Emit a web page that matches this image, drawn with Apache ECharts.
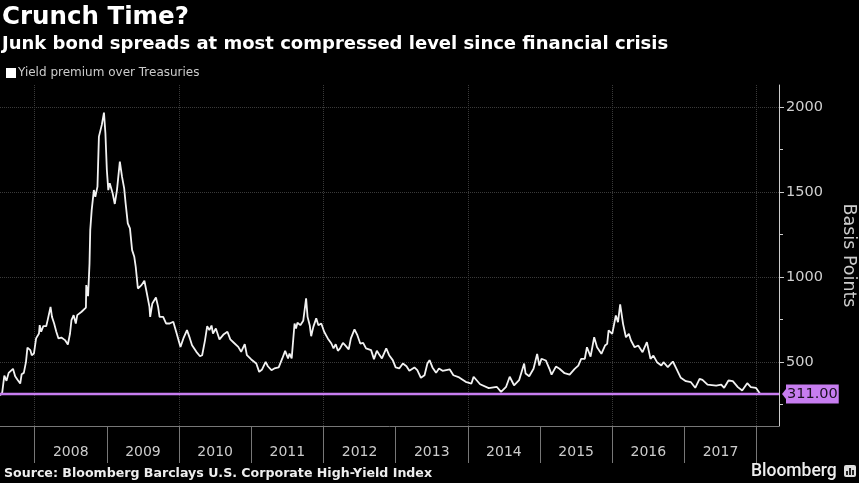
<!DOCTYPE html>
<html>
<head>
<meta charset="utf-8">
<style>
  html, body { margin: 0; padding: 0; background: #000; }
  #chart { width: 859px; height: 483px; }
</style>
<script src="https://cdn.jsdelivr.net/npm/echarts@6/dist/echarts.min.js"></script>
</head>
<body>
<div id="chart"></div>
<script>
// [decimal year, basis points]
const spread = [
  [2007.52,303],[2007.55,317],[2007.58,419],[2007.60,411],[2007.61,388],[2007.64,435],[2007.70,459],[2007.73,415],
  [2007.76,396],[2007.80,372],[2007.82,427],[2007.85,435],[2007.88,500],[2007.90,584],[2007.94,569],[2007.96,539],
  [2007.99,549],[2008.02,638],[2008.06,667],[2008.07,716],[2008.09,677],[2008.12,710],[2008.16,710],[2008.18,746],
  [2008.22,824],[2008.24,765],[2008.27,726],[2008.30,677],[2008.33,638],[2008.37,643],[2008.42,628],[2008.46,602],
  [2008.49,667],[2008.51,746],[2008.54,775],[2008.57,726],[2008.59,775],[2008.65,795],[2008.71,820],[2008.715,952],
  [2008.74,887],[2008.76,1080],[2008.77,1276],[2008.79,1394],[2008.82,1512],[2008.84,1473],[2008.87,1532],[2008.89,1827],
  [2008.93,1896],[2008.96,1968],[2008.98,1847],[2009.00,1630],[2009.02,1512],[2009.04,1552],[2009.08,1493],[2009.11,1430],
  [2009.14,1512],[2009.18,1680],[2009.21,1591],[2009.24,1522],[2009.26,1434],[2009.29,1316],[2009.32,1286],[2009.35,1158],
  [2009.38,1119],[2009.40,1060],[2009.43,932],[2009.48,952],[2009.52,978],[2009.55,913],[2009.59,824],[2009.60,765],
  [2009.63,844],[2009.68,879],[2009.71,824],[2009.73,765],[2009.78,765],[2009.82,726],[2009.87,726],[2009.92,736],
  [2009.96,677],[2010.02,588],[2010.06,638],[2010.11,687],[2010.15,638],[2010.18,598],[2010.24,559],[2010.29,533],
  [2010.32,539],[2010.36,628],[2010.39,710],[2010.42,687],[2010.45,714],[2010.47,667],[2010.51,696],[2010.56,632],
  [2010.62,663],[2010.67,677],[2010.71,632],[2010.77,608],[2010.82,588],[2010.86,559],[2010.91,604],[2010.94,539],
  [2011.00,514],[2011.07,490],[2011.11,441],[2011.15,455],[2011.20,500],[2011.23,474],[2011.28,451],[2011.32,461],
  [2011.38,467],[2011.43,520],[2011.47,565],[2011.51,520],[2011.53,549],[2011.56,520],[2011.60,726],[2011.62,697],
  [2011.64,730],[2011.68,716],[2011.72,742],[2011.76,874],[2011.78,765],[2011.81,716],[2011.83,651],[2011.86,706],
  [2011.90,756],[2011.93,716],[2011.97,726],[2012.01,677],[2012.06,638],[2012.11,608],[2012.14,579],[2012.17,604],
  [2012.20,565],[2012.23,579],[2012.27,612],[2012.30,598],[2012.35,573],[2012.38,638],[2012.43,691],[2012.47,657],
  [2012.51,608],[2012.55,612],[2012.59,579],[2012.66,569],[2012.70,516],[2012.74,565],[2012.77,545],[2012.81,520],
  [2012.87,579],[2012.91,539],[2012.96,510],[2013.00,467],[2013.05,461],[2013.10,490],[2013.15,474],[2013.19,447],
  [2013.26,467],[2013.30,451],[2013.35,406],[2013.40,421],[2013.44,490],[2013.47,510],[2013.51,467],[2013.56,435],
  [2013.60,461],[2013.65,447],[2013.75,455],[2013.80,421],[2013.88,408],[2013.97,382],[2014.05,372],[2014.08,412],
  [2014.17,368],[2014.19,372],[2014.29,345],[2014.40,353],[2014.46,323],[2014.53,353],[2014.58,412],[2014.64,362],
  [2014.71,392],[2014.78,490],[2014.80,431],[2014.85,415],[2014.87,413],[2014.91,459],[2014.96,547],[2014.99,478],
  [2015.02,518],[2015.08,508],[2015.13,459],[2015.16,425],[2015.22,472],[2015.27,459],[2015.34,433],[2015.41,425],
  [2015.48,459],[2015.53,478],[2015.57,518],[2015.62,518],[2015.65,586],[2015.70,531],[2015.75,645],[2015.79,586],
  [2015.85,547],[2015.90,596],[2015.93,606],[2015.95,685],[2016.00,665],[2016.05,773],[2016.08,734],[2016.11,838],
  [2016.15,724],[2016.19,645],[2016.23,665],[2016.26,626],[2016.31,586],[2016.36,596],[2016.42,557],[2016.48,616],
  [2016.53,518],[2016.57,537],[2016.62,498],[2016.68,478],[2016.71,498],[2016.77,469],[2016.84,502],[2016.89,459],
  [2016.95,406],[2017.02,386],[2017.09,380],[2017.15,347],[2017.21,400],[2017.25,394],[2017.32,366],[2017.44,360],
  [2017.51,366],[2017.55,347],[2017.61,390],[2017.67,386],[2017.74,351],[2017.80,331],[2017.87,374],[2017.92,351],
  [2017.99,347],[2018.05,311]
];

const font = "DejaVu Sans";
const purple = "#c77df0";
const xMin = 2007.52, xMax = 2018.31, yMin = 122, yMax = 2131;
const years = [2008, 2009, 2010, 2011, 2012, 2013, 2014, 2015, 2016, 2017];

const chart = echarts.init(document.getElementById("chart"));

chart.setOption({
  backgroundColor: "#000",
  animation: false,
  title: [
    { text: "Crunch Time?", left: 2, top: 5, padding: 0, textStyle: { color: "#fff", fontFamily: font, fontWeight: "bold", fontSize: 24.5 } },
    { text: "Junk bond spreads at most compressed level since financial crisis", left: 2, top: 35, padding: 0, textStyle: { color: "#fff", fontFamily: font, fontWeight: "bold", fontSize: 18 } },
    { text: "Source: Bloomberg Barclays U.S. Corporate High-Yield Index", left: 4, top: 467, padding: 0, textStyle: { color: "#eee", fontFamily: font, fontWeight: "bold", fontSize: 12.6 } },
    { text: "Bloomberg", left: 751, top: 463, padding: 0, textStyle: { color: "#eee", fontFamily: "Roboto", fontWeight: 500, fontSize: 17.5 } }
  ],
  legend: {
    left: 6, top: 67, padding: 0, icon: "rect", itemWidth: 10, itemHeight: 10, itemGap: 2,
    data: ["Yield premium over Treasuries"],
    textStyle: { color: "#ccc", fontFamily: font, fontSize: 12, padding: [0, 0, 0, -3] }
  },
  grid: { left: 0, right: 80, top: 85, bottom: 57, outerBoundsMode: "none" },
  xAxis: [
    {
      type: "value", min: xMin, max: xMax, position: "bottom",
      axisLine: { show: true, lineStyle: { color: "#777", width: 1 } },
      axisTick: { show: true, length: 37, lineStyle: { color: "#777" }, customValues: years.concat(2018) },
      axisLabel: {
        color: "#ccc", fontFamily: font, fontSize: 14, margin: 19,
        customValues: years.map(y => y + 0.5),
        formatter: v => String(Math.floor(v))
      },
      splitLine: { show: false }
    },
    {
      // dotted verticals only every second year
      type: "value", min: xMin, max: xMax, position: "bottom",
      axisLine: { show: false },
      axisLabel: { show: false },
      axisTick: { show: false, customValues: [2008, 2010, 2012, 2014, 2016, 2018] },
      splitLine: { show: true, lineStyle: { color: "#3a3a3a", type: "dotted", width: 1 } }
    }
  ],
  yAxis: [
    {
      type: "value", min: yMin, max: yMax, position: "right",
      name: "Basis Points", nameLocation: "middle", nameRotate: -90, nameGap: 61,
      nameTextStyle: { color: "#ccc", fontFamily: font, fontSize: 17.5 },
      axisLine: { show: true, lineStyle: { color: "#ccc", width: 1 } },
      axisTick: { show: true, length: 5, lineStyle: { color: "#ccc" }, customValues: [500, 1000, 1500, 2000] },
      axisLabel: {
        color: "#d0d0d0", fontFamily: font, fontSize: 14.5, margin: 7,
        customValues: [500, 1000, 1500, 2000],
        formatter: v => String(v)
      },
      splitLine: { show: true, lineStyle: { color: "#3a3a3a", type: "dotted", width: 1 } }
    },
    {
      // short unlabelled ticks between the round numbers
      type: "value", min: yMin, max: yMax, position: "right",
      axisLine: { show: false },
      axisLabel: { show: false },
      axisTick: { show: true, length: 4, lineStyle: { color: "#ccc" }, customValues: [250, 750, 1250, 1750] },
      splitLine: { show: false }
    }
  ],
  series: [
    {
      name: "Yield premium over Treasuries",
      type: "line",
      data: spread,
      showSymbol: false,
      lineStyle: { color: "#f2f2f2", width: 1.8 },
      itemStyle: { color: "#fff" },
      markLine: {
        silent: true,
        symbol: "none",
        lineStyle: { color: purple, width: 2.4, type: "solid" },
        label: {
          show: true, position: "end", distance: 7,
          formatter: "311.00",
          color: "#1a1020", backgroundColor: purple,
          fontFamily: font, fontSize: 14.5, padding: [2, 1, 2, 1]
        },
        data: [{ yAxis: 311 }]
      }
    }
  ],
  graphic: [
    // Bloomberg logo mark
    { type: "rect", shape: { x: 844, y: 465, width: 12, height: 12, r: 2 }, style: { fill: "#ddd" } },
    { type: "rect", shape: { x: 846, y: 471, width: 2, height: 4 }, style: { fill: "#222" } },
    { type: "rect", shape: { x: 849, y: 468, width: 2, height: 7 }, style: { fill: "#222" } },
    { type: "rect", shape: { x: 852, y: 470, width: 2, height: 5 }, style: { fill: "#222" } },
    // notch on the left of the last-value tag
    { type: "polygon", shape: { points: [[782, 394], [786, 389], [786, 399]] }, style: { fill: purple } }
  ]
});
</script>
</body>
</html>
